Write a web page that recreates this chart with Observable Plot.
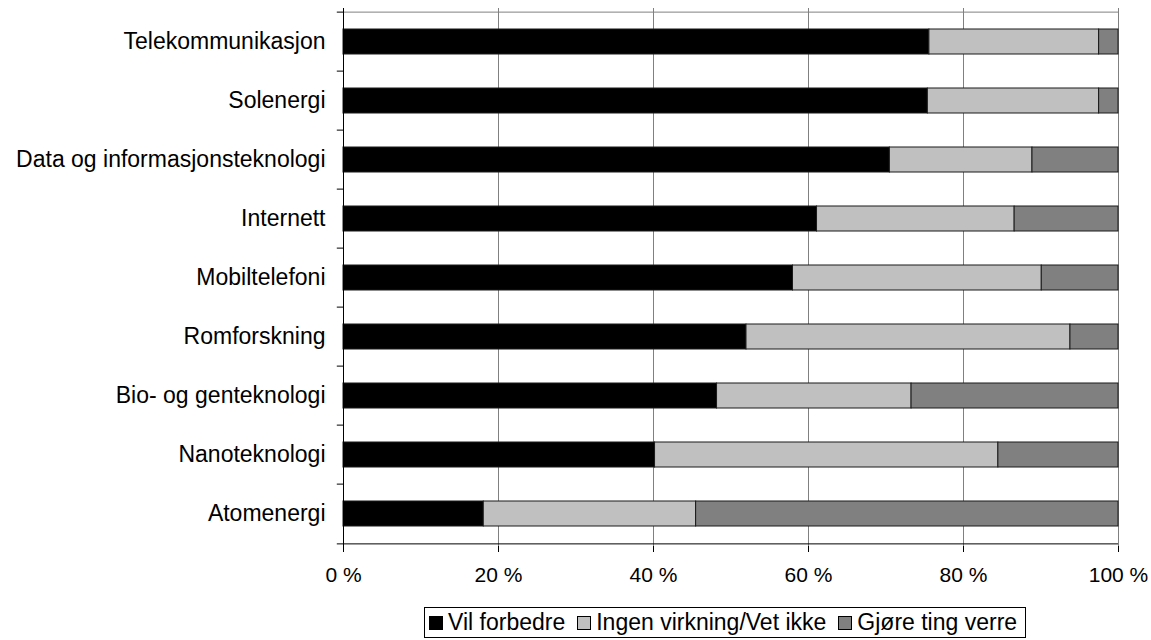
<!DOCTYPE html>
<html>
<head>
<meta charset="utf-8">
<script src="https://cdn.jsdelivr.net/npm/d3@7"></script>
<script src="https://cdn.jsdelivr.net/npm/@observablehq/plot@0.6"></script>
<style>
  html, body { margin: 0; padding: 0; background: #fff; }
  #wrap { position: relative; width: 1151px; height: 640px; font-family: "Liberation Sans", Arial, sans-serif; }
  #legend { position: absolute; left: 424px; top: 607px; height: 31px; border: 1px solid #000; box-sizing: border-box;
            display: flex; align-items: center; font-size: 23px; color: #000; padding: 0 8px 0 4px; white-space: nowrap; }
  .sw { display: inline-block; width: 14px; height: 14px; border: 1px solid #000; box-sizing: border-box; margin-right: 5px; }
  .item { display: inline-flex; align-items: center; margin-right: 12px; }
  .item:last-child { margin-right: 0; }
</style>
</head>
<body>
<div id="wrap">
  <div id="chart"></div>
  <div id="legend"></div>
</div>
<script>
const categories = ["Telekommunikasjon", "Solenergi", "Data og informasjonsteknologi", "Internett", "Mobiltelefoni", "Romforskning", "Bio- og genteknologi", "Nanoteknologi", "Atomenergi"];
const seriesNames = ["Vil forbedre", "Ingen virkning/Vet ikke", "Gjøre ting verre"];
const vilForbedre = [75.6, 75.4, 70.5, 61.1, 58.0, 52.0, 48.2, 40.2, 18.1];
const ingenVirkning = [21.9, 22.1, 18.4, 25.5, 32.1, 41.8, 25.1, 44.3, 27.4];
const gjoreVerre = [2.5, 2.5, 11.1, 13.4, 9.9, 6.2, 26.7, 15.5, 54.5];
const xTicks = [0, 20, 40, 60, 80, 100];
const colors = ["#000000", "#c0c0c0", "#808080"];

const seriesValues = [vilForbedre, ingenVirkning, gjoreVerre];
const data = [];
categories.forEach((c, i) => {
  seriesNames.forEach((s, k) => data.push({category: c, series: s, value: seriesValues[k][i]}));
});

const W = 1151, H = 600, mt = 8, mb = 54, ml = 343, mr = 33;
const step = (H - mt - mb) / categories.length;

const chart = Plot.plot({
  width: W, height: H,
  marginTop: mt, marginBottom: mb, marginLeft: ml, marginRight: mr,
  style: {fontFamily: '"Liberation Sans", Arial, sans-serif', background: "#fff", color: "#000", overflow: "visible"},
  x: {domain: [0, 100]},
  y: {domain: categories, paddingInner: 0.577, paddingOuter: 0.2885},
  color: {domain: seriesNames, range: colors},
  marks: [
    Plot.gridX(xTicks.slice(1), {stroke: "#808080", strokeOpacity: 1, strokeWidth: 1}),
    Plot.ruleY([categories[0]], {dy: -step / 2, stroke: "#808080", strokeWidth: 1}),
    Plot.barX(data, Plot.stackX({x: "value", y: "category", fill: "series", order: seriesNames, stroke: "#1a1a1a", strokeWidth: 1})),
    Plot.ruleX([0], {stroke: "#000", strokeWidth: 1}),
    Plot.ruleY([categories[categories.length - 1]], {dy: step / 2, stroke: "#000", strokeWidth: 1}),
    Plot.ruleY(categories, {x1: -0.8, x2: 0, dy: -step / 2, stroke: "#000", clip: false}),
    Plot.ruleY([categories[categories.length - 1]], {x1: -0.8, x2: 0, dy: step / 2, stroke: "#000", clip: false}),
    Plot.axisX({ticks: xTicks, tickFormat: d => d + " %", tickSize: 6, tickPadding: 15, fontSize: 21, label: null, stroke: "#000"}),
    Plot.axisY({tickSize: 0, tickPadding: 18, fontSize: 23, label: null})
  ]
});
document.getElementById("chart").appendChild(chart);

const legend = document.getElementById("legend");
seriesNames.forEach((s, k) => {
  const item = document.createElement("span");
  item.className = "item";
  const sw = document.createElement("span");
  sw.className = "sw";
  sw.style.background = colors[k];
  item.appendChild(sw);
  item.appendChild(document.createTextNode(s));
  legend.appendChild(item);
});
</script>
</body>
</html>
